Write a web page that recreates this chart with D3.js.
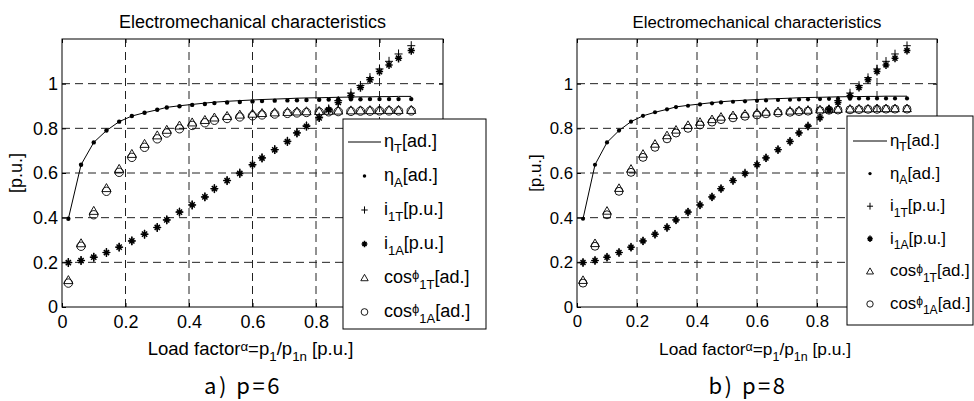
<!DOCTYPE html>
<html>
<head>
<meta charset="utf-8">
<script src="https://cdn.jsdelivr.net/npm/d3@7"></script>
<style>
  body { margin: 0; background: #fff; }
  svg { display: block; }
  text { font-family: "Liberation Sans", Arial, sans-serif; fill: #000; }
</style>
</head>
<body>
<div id="chart"></div>
<script>

// load factor alpha = p1/p1n (shared by both machines)
const alpha = [0.02, 0.06, 0.10, 0.14, 0.18, 0.22, 0.26, 0.30, 0.33, 0.37,
               0.41, 0.45, 0.48, 0.52, 0.56, 0.60, 0.63, 0.67, 0.71, 0.74,
               0.77, 0.81, 0.84, 0.87, 0.91, 0.94, 0.97, 1.00, 1.03, 1.06, 1.10];

// a) p=6
const etaT6 = [0.395, 0.637, 0.737, 0.79, 0.83, 0.855, 0.87, 0.883, 0.894, 0.901,
               0.907, 0.913, 0.917, 0.921, 0.924, 0.927, 0.929, 0.931, 0.933, 0.935,
               0.936, 0.937, 0.938, 0.939, 0.94, 0.941, 0.941, 0.942, 0.942, 0.943, 0.943];
const etaA6 = [0.395, 0.637, 0.737, 0.79, 0.83, 0.855, 0.87, 0.883, 0.893, 0.899,
               0.905, 0.909, 0.913, 0.916, 0.918, 0.92, 0.922, 0.924, 0.925, 0.926,
               0.927, 0.928, 0.929, 0.93, 0.93, 0.93, 0.931, 0.931, 0.931, 0.931, 0.931];
const i1T6 = [0.199, 0.208, 0.223, 0.244, 0.268, 0.296, 0.326, 0.356, 0.39, 0.425,
              0.457, 0.493, 0.53, 0.566, 0.6, 0.637, 0.668, 0.705, 0.742, 0.78,
              0.811, 0.85, 0.887, 0.924, 0.958, 0.992, 1.027, 1.066, 1.1, 1.133, 1.17];
const i1A6 = [0.199, 0.208, 0.223, 0.244, 0.268, 0.296, 0.326, 0.356, 0.39, 0.425,
              0.457, 0.493, 0.53, 0.566, 0.598, 0.637, 0.667, 0.704, 0.741, 0.779,
              0.809, 0.847, 0.883, 0.916, 0.946, 0.983, 1.017, 1.054, 1.084, 1.114, 1.148];
const cosT6 = [0.12, 0.285, 0.43, 0.532, 0.618, 0.685, 0.73, 0.768, 0.793, 0.812,
               0.826, 0.837, 0.848, 0.855, 0.861, 0.865, 0.868, 0.871, 0.873, 0.875,
               0.876, 0.877, 0.878, 0.879, 0.88, 0.88, 0.881, 0.881, 0.882, 0.882, 0.882];
const cosA6 = [0.107, 0.272, 0.413, 0.518, 0.603, 0.67, 0.715, 0.753, 0.779, 0.798,
               0.813, 0.825, 0.836, 0.844, 0.851, 0.856, 0.86, 0.864, 0.867, 0.869,
               0.871, 0.873, 0.874, 0.875, 0.876, 0.877, 0.877, 0.878, 0.878, 0.878, 0.878];

// b) p=8
const etaT8 = [0.395, 0.637, 0.737, 0.79, 0.83, 0.856, 0.872, 0.885, 0.896, 0.903,
               0.909, 0.915, 0.919, 0.923, 0.926, 0.929, 0.931, 0.933, 0.935, 0.937,
               0.938, 0.939, 0.94, 0.941, 0.942, 0.942, 0.943, 0.943, 0.944, 0.944, 0.944];
const etaA8 = [0.395, 0.637, 0.737, 0.79, 0.83, 0.856, 0.872, 0.885, 0.895, 0.901,
               0.907, 0.912, 0.916, 0.919, 0.921, 0.923, 0.925, 0.927, 0.928, 0.929,
               0.93, 0.931, 0.932, 0.933, 0.933, 0.934, 0.934, 0.934, 0.934, 0.934, 0.934];
const i1T8 = [0.199, 0.208, 0.223, 0.244, 0.268, 0.296, 0.326, 0.356, 0.39, 0.425,
              0.457, 0.493, 0.53, 0.566, 0.6, 0.637, 0.668, 0.705, 0.742, 0.78,
              0.811, 0.85, 0.887, 0.924, 0.958, 0.992, 1.027, 1.066, 1.1, 1.133, 1.17];
const i1A8 = [0.199, 0.208, 0.223, 0.244, 0.268, 0.296, 0.326, 0.356, 0.39, 0.425,
              0.457, 0.493, 0.53, 0.566, 0.598, 0.637, 0.667, 0.704, 0.741, 0.779,
              0.809, 0.847, 0.883, 0.916, 0.946, 0.983, 1.017, 1.054, 1.084, 1.114, 1.148];
const cosT8 = [0.12, 0.285, 0.43, 0.532, 0.618, 0.685, 0.73, 0.768, 0.793, 0.814,
               0.828, 0.84, 0.851, 0.858, 0.864, 0.869, 0.873, 0.876, 0.878, 0.88,
               0.882, 0.884, 0.885, 0.886, 0.887, 0.888, 0.888, 0.889, 0.889, 0.889, 0.889];
const cosA8 = [0.107, 0.272, 0.413, 0.518, 0.603, 0.67, 0.715, 0.753, 0.779, 0.8,
               0.815, 0.828, 0.839, 0.847, 0.854, 0.86, 0.865, 0.869, 0.872, 0.875,
               0.877, 0.879, 0.881, 0.882, 0.883, 0.884, 0.885, 0.885, 0.886, 0.886, 0.886];

const xTicks = [0, 0.2, 0.4, 0.6, 0.8, 1, 1.2];
const yTicks = [0, 0.2, 0.4, 0.6, 0.8, 1];

const title = "Electromechanical characteristics";
const legendLabels = [
  [{t: "η"}, {t: "T", sub: true}, {t: "[ad.]"}],
  [{t: "η"}, {t: "A", sub: true}, {t: "[ad.]"}],
  [{t: "i"}, {t: "1T", sub: true}, {t: "[p.u.]"}],
  [{t: "i"}, {t: "1A", sub: true}, {t: "[p.u.]"}],
  [{t: "cos"}, {t: "ϕ", sup: true}, {t: "1T", sub: true}, {t: "[ad.]"}],
  [{t: "cos"}, {t: "ϕ", sup: true}, {t: "1A", sub: true}, {t: "[ad.]"}]
];
const xLabel = [{t: "Load factor"}, {t: "α", sup: true}, {t: "=p"}, {t: "1", sub: true},
                {t: "/p"}, {t: "1n", sub: true}, {t: " [p.u.]"}];

const width = 974, height = 401;

const svg = d3.select("#chart")
  .append("svg")
  .attr("width", width)
  .attr("height", height)
  .attr("viewBox", [0, 0, width, height]);

// subscripts / small raised greek letters
function richText(sel, parts, fs) {
  let shift = 0;
  parts.forEach(p => {
    const target = p.sub ? fs * 0.32 : p.sup ? -fs * 0.22 : 0;
    sel.append("tspan")
      .attr("dy", target - shift)
      .attr("font-size", (p.sub || p.sup) ? fs * 0.72 : fs)
      .text(p.t);
    shift = target;
  });
}

function markerPath(type, s) {
  const k = v => (v * s).toFixed(2);
  if (type == "plus") return `M${k(-4)},0H${k(4)}M0,${k(-4.5)}V${k(4.5)}`;
  if (type == "star") return `M${k(-3.6)},0H${k(3.6)}M0,${k(-4.2)}V${k(4.2)}` +
    `M${k(-2.6)},${k(-2.6)}L${k(2.6)},${k(2.6)}M${k(-2.6)},${k(2.6)}L${k(2.6)},${k(-2.6)}`;
  if (type == "tri") return `M0,${k(-4.6)}L${k(4.6)},${k(3.4)}H${k(-4.6)}Z`;
  if (type == "circ") return `M${k(4.2)},0A${k(4.2)},${k(4.2)} 0 1,1 ${k(-4.2)},0A${k(4.2)},${k(4.2)} 0 1,1 ${k(4.2)},0Z`;
  // dot
  return `M${k(2.2)},0A${k(2.2)},${k(2.2)} 0 1,1 ${k(-2.2)},0A${k(2.2)},${k(2.2)} 0 1,1 ${k(2.2)},0Z`;
}

const markerStyle = {
  dot:  {fill: "#000", stroke: "none", sw: 0},
  plus: {fill: "none", stroke: "#000", sw: 1},
  star: {fill: "none", stroke: "#000", sw: 1.5},
  tri:  {fill: "none", stroke: "#000", sw: 0.9},
  circ: {fill: "none", stroke: "#000", sw: 0.9}
};

function addMarkers(g, pts, type, s) {
  const st = markerStyle[type];
  g.append("g")
    .selectAll("path")
    .data(pts)
    .join("path")
    .attr("transform", d => `translate(${d[0]},${d[1]})`)
    .attr("d", markerPath(type, s))
    .attr("fill", st.fill)
    .attr("stroke", st.stroke)
    .attr("stroke-width", st.sw);
}

const panels = [
  {
    sub: "a) p=6", subX: 243,
    series: {etaT: etaT6, etaA: etaA6, i1T: i1T6, i1A: i1A6, cosT: cosT6, cosA: cosA6},
    plot: {left: 62, right: 443, top: 39, bottom: 307},
    fs: 18, ms: 1, ylabelX: 16,
    legend: {x: 343, y: 119, w: 143, h: 210, row0: 142, step: 34, line: [348, 381], textX: 384}
  },
  {
    sub: "b) p=8", subX: 748,
    series: {etaT: etaT8, etaA: etaA8, i1T: i1T8, i1A: i1A8, cosT: cosT8, cosA: cosA8},
    plot: {left: 577, right: 937, top: 39, bottom: 307},
    fs: 16.8, ms: 0.95, ylabelX: 535,
    legend: {x: 847, y: 116, w: 126, h: 209, row0: 141, step: 32.6, line: [853, 887], textX: 890}
  }
];

panels.forEach(p => {
  const g = svg.append("g");
  const m = p.plot;
  const cx = (m.left + m.right) / 2;

  let x = d3.scaleLinear()
    .domain([0, 1.2])
    .range([m.left, m.right]);

  let y = d3.scaleLinear()
    .domain([0, 1.2])
    .range([m.bottom, m.top]);

  // dashed grid
  g.append("g")
    .selectAll("line")
    .data(xTicks.filter(d => d > 0 && d < 1.2))
    .join("line")
    .attr("x1", d => x(d)).attr("x2", d => x(d))
    .attr("y1", m.top).attr("y2", m.bottom)
    .attr("stroke", "#222")
    .attr("stroke-dasharray", "8,5");

  g.append("g")
    .selectAll("line")
    .data(yTicks.filter(d => d > 0))
    .join("line")
    .attr("x1", m.left).attr("x2", m.right)
    .attr("y1", d => y(d)).attr("y2", d => y(d))
    .attr("stroke", "#222")
    .attr("stroke-dasharray", "8,5");

  // axes, ticks pointing inwards; labels at 1 and 1.2 sit under the legend
  const xAxis = g.append("g")
    .attr("transform", `translate(0,${m.bottom})`)
    .call(d3.axisBottom(x).tickValues(xTicks).tickSize(-4).tickPadding(8)
      .tickFormat(d => d < 1 ? d3.format("~g")(d) : ""));

  const yAxis = g.append("g")
    .attr("transform", `translate(${m.left},0)`)
    .call(d3.axisLeft(y).tickValues(yTicks).tickSize(-4).tickPadding(4)
      .tickFormat(d3.format("~g")));

  g.append("g")
    .attr("transform", `translate(0,${m.top})`)
    .call(d3.axisTop(x).tickValues(xTicks).tickSize(-4).tickFormat(""));

  g.append("g")
    .attr("transform", `translate(${m.right},0)`)
    .call(d3.axisRight(y).tickValues(yTicks).tickSize(-4).tickFormat(""));

  g.selectAll(".domain").remove();
  g.selectAll(".tick line").attr("stroke", "#000");
  [xAxis, yAxis].forEach(a => a.selectAll(".tick text")
    .attr("font-size", p.fs));

  g.append("rect")
    .attr("x", m.left).attr("y", m.top)
    .attr("width", m.right - m.left).attr("height", m.bottom - m.top)
    .attr("fill", "none")
    .attr("stroke", "#000");

  // data
  const s = p.series;
  const pts = vals => alpha.map((a, i) => [x(a), y(vals[i])]);

  let line = d3.line();
  g.append("path")
    .datum(pts(s.etaT))
    .attr("d", line)
    .attr("fill", "none")
    .attr("stroke", "#000")
    .attr("stroke-width", 1);

  addMarkers(g, pts(s.cosA), "circ", p.ms);
  addMarkers(g, pts(s.cosT), "tri", p.ms);
  addMarkers(g, pts(s.etaA), "dot", p.ms);
  addMarkers(g, pts(s.i1T), "plus", p.ms);
  addMarkers(g, pts(s.i1A), "star", p.ms);

  // texts
  g.append("text")
    .attr("x", cx)
    .attr("y", 28)
    .attr("text-anchor", "middle")
    .attr("font-size", p.fs)
    .text(title);

  const xl = g.append("text")
    .attr("x", cx - 2)
    .attr("y", 355)
    .attr("text-anchor", "middle");
  richText(xl, xLabel, p.fs * 1.03);

  g.append("text")
    .attr("transform", `translate(${p.ylabelX},${(m.top + m.bottom) / 2}) rotate(-90)`)
    .attr("text-anchor", "middle")
    .attr("dy", "0.35em")
    .attr("font-size", p.fs)
    .text("[p.u.]");

  g.append("text")
    .attr("x", p.subX)
    .attr("y", 394)
    .attr("text-anchor", "middle")
    .attr("font-size", 22)
    .attr("letter-spacing", 2.5)
    .style("font-family", "'Noto Sans CJK KR', 'Noto Sans', sans-serif")
    .text(p.sub);

  // legend
  const L = p.legend;
  const lg = g.append("g");
  lg.append("rect")
    .attr("x", L.x).attr("y", L.y)
    .attr("width", L.w).attr("height", L.h)
    .attr("fill", "#fff")
    .attr("stroke", "#000");

  const kinds = ["line", "dot", "plus", "star", "tri", "circ"];
  const mid = (L.line[0] + L.line[1]) / 2;
  kinds.forEach((k, i) => {
    const ry = L.row0 + i * L.step;
    if (k == "line") {
      lg.append("line")
        .attr("x1", L.line[0]).attr("x2", L.line[1])
        .attr("y1", ry).attr("y2", ry)
        .attr("stroke", "#000");
    } else {
      addMarkers(lg, [[mid, ry]], k, p.ms * 0.8);
    }
    const t = lg.append("text")
      .attr("x", L.textX)
      .attr("y", ry + p.fs * 0.3);
    richText(t, legendLabels[i], p.fs);
  });
});

</script>
</body>
</html>
